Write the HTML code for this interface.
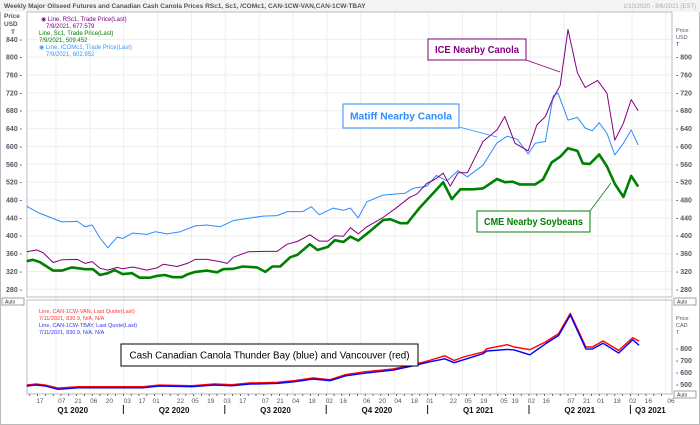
<!DOCTYPE html>
<html><head><meta charset="utf-8"><style>
body{margin:0;background:#fff;}
svg{display:block;font-family:"Liberation Sans",sans-serif;}
</style></head><body>
<svg id="c" width="700" height="425" viewBox="0 0 700 425" xmlns="http://www.w3.org/2000/svg">
<rect x="0.5" y="0.5" width="699" height="424" fill="#fff" stroke="#bbb"/>
<rect x="0" y="0" width="700" height="12" fill="#f4f4f4"/>
<text x="4" y="8" font-size="6.5" font-weight="bold" fill="#555">Weekly Major Oilseed Futures and Canadian Cash Canola Prices RSc1, Sc1, /COMc1, CAN-1CW-VAN,CAN-1CW-TBAY</text>
<text x="696" y="8" font-size="6" fill="#aaa" text-anchor="end">1/10/2020 - 8/6/2021 (EST)</text>
<g id="grid"></g>
<rect x="27" y="12" width="645" height="285" fill="none" stroke="#bbb"/>
<rect x="27" y="300" width="645" height="94" fill="none" stroke="#bbb"/>
<g id="axes"></g>
<g id="series"></g>
<g font-size="6">
<text x="41" y="21" fill="#800080">◉ Line, RSc1, Trade Price(Last)</text>
<text x="46" y="28" fill="#800080">7/9/2021, 677.579</text>
<text x="39" y="35" fill="#008000">Line, Sc1, Trade Price(Last)</text>
<text x="39" y="42" fill="#008000">7/9/2021, 509.452</text>
<text x="39" y="49" fill="#3399ff">◉ Line, /COMc1, Trade Price(Last)</text>
<text x="46" y="56" fill="#3399ff">7/9/2021, 602.952</text>
</g>
<g font-size="5.5">
<text x="39" y="313" fill="#ff3333">Line, CAN-1CW-VAN, Last Quote(Last)</text>
<text x="39" y="320" fill="#ff3333">7/11/2021, 830.9, N/A, N/A</text>
<text x="39" y="327" fill="#3333ff">Line, CAN-1CW-TBAY, Last Quote(Last)</text>
<text x="39" y="334" fill="#3333ff">7/11/2021, 830.9, N/A, N/A</text>
</g>
<g id="notes"></g>
</svg>
<script>
const NS="http://www.w3.org/2000/svg";
// ---- data (week index from 2020-01-01) ----
const matiffWeeks=[0.6,2.3,5.1,7.1,8.1,9.0,10.0,11.0,12.2,12.9,14.2,16.0,17.1,18.6,20.3,22.2,23.7,25.4,27.1,29.0,30.9,32.7,34.0,36.0,37.1,38.1,39.9,41.2,42.1,43.1,44.2,46.3,49.1,50.1,51.9,53.1,54.5,55.9,57.1,59.1,60.9,62.2,63.5,64.9,65.8,67.1,68.1,68.7,70.0,71.2,72.2,73.1,74.0,75.0,76.0,77.1,78.1,79.0];
const matiffValues=[466,450,431,432,420,424,395,373,397,394,406,403,409,404,409,422,424,420,434,439,444,445,454,454,465,447,462,457,462,440,476,491,495,506,511,535,523,546,532,558,608,623,616,583,607,611,713,720,659,665,641,635,653,629,581,607,637,603];
const iceWeeks=[0.6,1.9,2.7,4.0,5.1,7.1,8.1,9.0,10.0,11.0,12.2,12.9,14.2,16.0,17.3,18.1,19.9,21.2,22.2,23.7,25.4,26.3,27.1,29.0,30.9,32.7,34.0,35.3,36.9,38.1,39.2,40.1,41.2,42.1,43.1,44.2,46.3,48.1,49.7,50.6,51.9,52.9,54.0,54.9,55.9,57.1,59.1,60.9,61.9,63.2,64.9,66.0,67.1,67.9,69.0,70.0,71.2,72.2,73.8,75.0,76.0,77.1,78.1,79.0];
const iceValues=[364,368,362,340,346,347,338,342,327,323,329,326,330,323,328,336,331,338,347,347,342,338,352,364,365,365,381,387,402,388,388,400,399,418,404,420,441,464,486,493,517,526,540,511,541,541,611,637,667,607,590,648,667,701,737,862,765,732,748,719,614,652,705,680];
const cmeWeeks=[0.6,1.4,2.3,4.0,5.1,6.4,8.1,9.1,10.0,11.0,11.9,12.9,14.1,15.1,16.4,17.3,18.3,19.4,20.5,21.3,22.2,23.7,25.0,25.8,27.1,28.3,30.1,31.2,32.1,33.1,34.4,35.3,36.9,37.9,39.2,40.1,41.2,42.1,43.1,44.6,46.3,47.2,48.5,49.4,51.0,52.7,54.0,55.1,56.2,57.8,59.1,60.9,61.9,62.9,63.8,65.8,66.8,67.9,69.0,70.0,71.2,71.9,72.8,74.0,75.0,76.0,77.1,78.1,79.0];
const cmeValues=[343,346,341,322,322,329,325,325,312,316,323,314,316,306,306,310,312,307,307,314,319,322,318,325,326,331,329,319,331,331,352,357,381,368,375,390,386,398,389,410,435,437,428,428,463,495,520,482,504,504,506,527,520,521,515,515,526,564,577,596,590,562,561,582,555,516,487,534,510];
const vanWeeks=[0.6,1.8,3.0,4.6,7.2,10.9,15.5,17.6,21.8,24.7,26.9,29.2,32.7,35.0,37.3,39.5,41.5,44.2,47.6,50.0,52.2,54.2,55.4,56.8,59.1,59.6,62.2,63.1,65.1,67.1,68.8,70.3,72.3,73.1,74.5,76.5,78.3,79.1];
const vanValues=[497,506,497,472,483,483,483,497,492,506,500,514,520,534,556,542,584,609,632,665,702,741,702,735,772,800,833,814,792,856,926,1094,814,814,864,786,892,864];
const tbayValues=[489,497,489,462,474,474,474,488,483,497,491,505,511,525,547,533,574,598,622,655,690,716,683,712,758,781,794,790,749,840,910,1080,797,797,845,764,875,828];
const dayLabels=["17","07","21","06","20","03","17","01","22","05","19","03","17","07","21","04","18","02","16","06","20","04","18","01","22","05","19","05","19","02","16","07","21","01","18","02","16","06"];
const dayWeeks=[2.3,5.1,7.2,9.2,11.2,13.5,15.4,17.2,20.3,22.2,24.2,26.3,28.3,31.2,33.1,35.1,37.2,39.4,41.2,44.2,46.2,48.2,50.3,52.3,55.3,57.2,59.2,61.8,63.2,65.3,67.2,70.4,72.4,74.2,76.3,78.3,80.3,83.2];
const quarterLabels=["Q1 2020","Q2 2020","Q3 2020","Q4 2020","Q1 2021","Q2 2021","Q3 2021"];
const quarterStarts=[0,13,26,39,52,65,78];
const topTicks=[280,320,360,400,440,480,520,560,600,640,680,720,760,800,840];
const botTicks=[500,600,700,800];
// ---- scales ----
const xOf=w=>22+w*7.8;
const yTop=v=>289.3-(v-280)*0.4464;
const yBot=v=>348.7+(800-v)*0.12;
function mk(tag,attrs,parent){const e=document.createElementNS(NS,tag);for(const k in attrs)e.setAttribute(k,attrs[k]);parent.appendChild(e);return e;}
const grid=document.getElementById('grid'),axes=document.getElementById('axes'),ser=document.getElementById('series'),notes=document.getElementById('notes');
topTicks.forEach(t=>{const y=yTop(t);if(y<14)return;
 const l=mk('line',{x1:27,x2:672,y1:y,y2:y,stroke:'#eeeeee'},grid);
 
 });
for(let m=0;m<20;m++){const x=xOf(m*4.345);if(x<28||x>671)continue;
 const l=mk('line',{x1:x,x2:x,y1:12,y2:394,stroke:'#eeeeee'},grid);
 
 }
topTicks.forEach(t=>{const y=yTop(t);
 const a=mk('text',{x:22,y:y+2.5,'font-size':7,'font-weight':'bold',fill:'#556','text-anchor':'end'},axes);a.textContent=t+' -';
 
 
 if(t<=800){const b=mk('text',{x:676,y:y+2.5,'font-size':7,'font-weight':'bold',fill:'#556'},axes);b.textContent='- '+t;
 
 }});
botTicks.forEach(t=>{const y=yBot(t);const b=mk('text',{x:676,y:y+2.5,'font-size':7,'font-weight':'bold',fill:'#556'},axes);b.textContent='- '+t;
 
 });
[[4,18,'Price'],[4,26,'USD'],[11,34,'T']].forEach(p=>{const e=mk('text',{x:p[0],y:p[1],'font-size':6.5,'font-weight':'bold',fill:'#556'},axes);e.textContent=p[2];
 
 });
[[676,32,'Price','#556'],[676,39,'USD','#556'],[676,46,'T','#800080'],[676,320,'Price','#556'],[676,327,'CAD','#556'],[676,334,'T','#556']].forEach(p=>{const e=mk('text',{x:p[0],y:p[1],'font-size':5.5,fill:p[3]},axes);e.textContent=p[2];
 
 });
[[2,299],[674,299],[674,392]].forEach(p=>{mk('rect',{x:p[0],y:p[1]-1,width:22,height:7,fill:'#fff',stroke:'#666','stroke-width':0.6},axes);const e=mk('text',{x:p[0]+3,y:p[1]+4.5,'font-size':5,fill:'#333'},axes);e.textContent='Auto';
 
 });
dayLabels.forEach((d,i)=>{const x=xOf(dayWeeks[i]);if(x>672)return;const e=mk('text',{x:x,y:403,'font-size':6.5,fill:'#556','text-anchor':'middle'},axes);e.textContent=d;
 
 });
for(let w=0;w<83;w++){const x=xOf(w);if(x<28||x>672)continue;mk('line',{x1:x,x2:x,y1:394,y2:396,stroke:'#333','stroke-width':0.7},axes);}
quarterLabels.forEach((q,i)=>{const s=xOf(quarterStarts[i]);const e=mk('text',{x:i==6?s+20:s+50.7,y:413,'font-size':8,'font-weight':'bold',fill:'#111','text-anchor':'middle'},axes);e.textContent=q;
 
 
 if(i>0){mk('line',{x1:s,x2:s,y1:405,y2:414,stroke:'#111','stroke-width':1},axes);}});
function line(ws,vs,yf,color,w,name){const d=ws.map((wk,i)=>(i?'L':'M')+xOf(wk).toFixed(1)+','+yf(vs[i]).toFixed(1)).join(' ');
 const p=mk('path',{d:d,fill:'none',stroke:color,'stroke-width':w,'stroke-linejoin':'round'},ser);
 
 }
line(matiffWeeks,matiffValues,yTop,'#2a8cff',1,'matiff-canola-line');
line(iceWeeks,iceValues,yTop,'#800080',1,'ice-canola-line');
line(cmeWeeks,cmeValues,yTop,'#008000',2.6,'cme-soybeans-line');
line(vanWeeks,vanValues,yBot,'#ff0000',1.4,'vancouver-cash-line');
line(vanWeeks,tbayValues,yBot,'#0000ff',1.4,'thunder-bay-cash-line');
function box(x,y,w,h,stroke,color,txt,name,sz){const g=mk('g',{},notes);
 
 
 mk('rect',{x:x,y:y,width:w,height:h,fill:'#fff',stroke:stroke,'stroke-width':1},g);
 const t=mk('text',{x:x+w/2,y:y+h/2+3.5,'font-size':sz,'font-weight':'bold',fill:color,'text-anchor':'middle',textLength:w-14,lengthAdjust:'spacingAndGlyphs'},g);t.textContent=txt;}
function lead(x1,y1,x2,y2,c){const l=mk('line',{x1:x1,y1:y1,x2:x2,y2:y2,stroke:c,'stroke-width':0.8},notes);
 
 }
lead(526,60,560,72,'#800080');lead(459,127,497,137,'#2a8cff');lead(590,211,611,183,'#008000');
box(428,39,98,21,'#800080','#800080','ICE Nearby Canola','ice-annotation',10);
box(343,104,116,24,'#2a8cff','#2a8cff','Matiff Nearby Canola','matiff-annotation',10);
box(477,211,113,21,'#008000','#008000','CME Nearby Soybeans','cme-annotation',10);
const g=mk('g',{},notes);


mk('rect',{x:121,y:344,width:297,height:22,fill:'#fff',stroke:'#000','stroke-width':1},g);
const ct=mk('text',{x:269.5,y:358.5,'font-size':10,fill:'#000','text-anchor':'middle',textLength:280,lengthAdjust:'spacingAndGlyphs'},g);ct.textContent='Cash Canadian Canola Thunder Bay (blue) and Vancouver (red)';
</script>
</body></html>
